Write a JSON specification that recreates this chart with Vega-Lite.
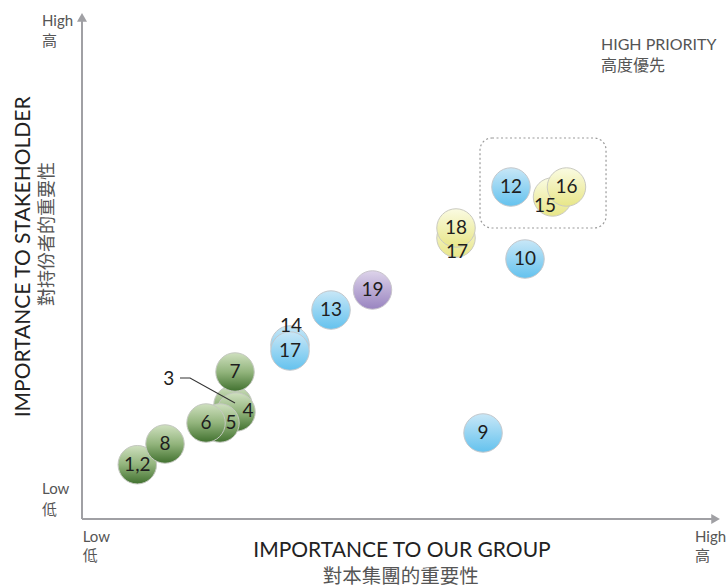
{
  "$schema": "https://vega.github.io/schema/vega-lite/v6.json",
  "width": 640,
  "height": 506,
  "autosize": {"type": "none"},
  "padding": {"left": 82, "top": 13, "right": 5, "bottom": 69},
  "background": "white",
  "config": {"view": {"stroke": null}},
  "datasets": {
    "bubbles": [
      {"id": "1,2", "g": "green", "x": 8.64, "y": 10.73, "lx": 8.64, "ly": 10.73},
      {"id": "8", "g": "green", "x": 12.97, "y": 14.82, "lx": 12.97, "ly": 14.82},
      {"id": "3", "g": "green", "x": 23.59, "y": 22.53, "lx": 13.55, "ly": 27.67},
      {"id": "4", "g": "green", "x": 24.06, "y": 21.15, "lx": 25.94, "ly": 21.34},
      {"id": "7", "g": "green", "x": 23.91, "y": 29.05, "lx": 23.91, "ly": 29.05},
      {"id": "5", "g": "green", "x": 21.56, "y": 18.97, "lx": 23.28, "ly": 18.97},
      {"id": "6", "g": "green", "x": 19.38, "y": 18.97, "lx": 19.38, "ly": 18.97},
      {"id": "14", "g": "blue", "x": 32.5, "y": 34.39, "lx": 32.66, "ly": 38.14},
      {"id": "17", "g": "blue", "x": 32.5, "y": 33.2, "lx": 32.5, "ly": 33.2},
      {"id": "13", "g": "blue", "x": 38.91, "y": 41.3, "lx": 38.91, "ly": 41.3},
      {"id": "12", "g": "blue", "x": 67.03, "y": 65.61, "lx": 67.03, "ly": 65.61},
      {"id": "10", "g": "blue", "x": 69.22, "y": 51.38, "lx": 69.22, "ly": 51.38},
      {"id": "9", "g": "blue", "x": 62.66, "y": 17.0, "lx": 62.66, "ly": 17.0},
      {"id": "17", "g": "yellow", "x": 58.44, "y": 55.53, "lx": 58.59, "ly": 52.77},
      {"id": "18", "g": "yellow", "x": 58.44, "y": 57.51, "lx": 58.44, "ly": 57.51},
      {"id": "15", "g": "yellow", "x": 73.52, "y": 63.64, "lx": 72.34, "ly": 61.86},
      {"id": "16", "g": "yellow", "x": 75.7, "y": 65.61, "lx": 75.7, "ly": 65.61},
      {"id": "19", "g": "purple", "x": 45.39, "y": 45.26, "lx": 45.39, "ly": 45.26}
    ]
  },
  "encoding": {
    "x": {"field": "x", "type": "quantitative", "scale": {"domain": [0, 100]}, "axis": null},
    "y": {"field": "y", "type": "quantitative", "scale": {"domain": [0, 100]}, "axis": null}
  },
  "layer": [
    {
      "data": {"values": [{"x": 0, "y": 0, "x2": 0, "y2": 99.15}, {"x": 0, "y": 0, "x2": 99.0, "y2": 0}]},
      "mark": {"type": "rule", "color": "#a0a0a4", "strokeWidth": 2},
      "encoding": {"x2": {"field": "x2"}, "y2": {"field": "y2"}}
    },
    {
      "data": {"values": [{"x": 0, "y": 99.15, "dir": "up"}, {"x": 99.0, "y": 0, "dir": "right"}]},
      "mark": {"type": "point", "filled": true, "size": 100, "color": "#a0a0a4", "opacity": 1},
      "encoding": {
        "shape": {"field": "dir", "type": "nominal", "scale": {"domain": ["up", "right"], "range": ["triangle-up", "triangle-right"]}, "legend": null}
      }
    },
    {
      "data": {"values": [{"x": 62.19, "y": 75.3, "x2": 81.88, "y2": 57.51}]},
      "mark": {"type": "rect", "cornerRadius": 12, "fillOpacity": 0, "stroke": "#9a9a9a", "strokeDash": [2, 2.5], "strokeWidth": 1.2},
      "encoding": {"x2": {"field": "x2"}, "y2": {"field": "y2"}}
    },
    {
      "data": {"name": "bubbles"},
      "transform": [{"filter": "datum.g === 'green'"}],
      "mark": {"type": "circle", "size": 1480, "opacity": 1, "stroke": "#c4c8c0", "strokeWidth": 1,
        "fill": {"gradient": "linear", "x1": 0, "y1": 0, "x2": 0, "y2": 1, "stops": [{"offset": 0, "color": "#cfe0bf"}, {"offset": 0.5, "color": "#92b47c"}, {"offset": 1, "color": "#41712f"}]}}
    },
    {
      "data": {"name": "bubbles"},
      "transform": [{"filter": "datum.g === 'blue'"}],
      "mark": {"type": "circle", "size": 1480, "opacity": 1, "stroke": "#c4c8cc", "strokeWidth": 1,
        "fill": {"gradient": "linear", "x1": 0, "y1": 0, "x2": 0, "y2": 1, "stops": [{"offset": 0, "color": "#c8e7f7"}, {"offset": 1, "color": "#64c2ee"}]}}
    },
    {
      "data": {"name": "bubbles"},
      "transform": [{"filter": "datum.g === 'yellow'"}],
      "mark": {"type": "circle", "size": 1480, "opacity": 1, "stroke": "#cacac0", "strokeWidth": 1,
        "fill": {"gradient": "linear", "x1": 0, "y1": 0, "x2": 0, "y2": 1, "stops": [{"offset": 0, "color": "#fafbe2"}, {"offset": 1, "color": "#e8e688"}]}}
    },
    {
      "data": {"name": "bubbles"},
      "transform": [{"filter": "datum.g === 'purple'"}],
      "mark": {"type": "circle", "size": 1480, "opacity": 1, "stroke": "#c8c4cc", "strokeWidth": 1,
        "fill": {"gradient": "linear", "x1": 0, "y1": 0, "x2": 0, "y2": 1, "stops": [{"offset": 0, "color": "#ddd3ea"}, {"offset": 1, "color": "#9984c0"}]}}
    },
    {
      "data": {"values": [{"x": 15.31, "y": 27.87, "o": 1}, {"x": 16.88, "y": 27.87, "o": 2}, {"x": 23.91, "y": 22.92, "o": 3}]},
      "mark": {"type": "line", "color": "#333333", "strokeWidth": 1.1},
      "encoding": {"order": {"field": "o", "type": "quantitative"}}
    },
    {
      "data": {"name": "bubbles"},
      "mark": {"type": "text", "font": "Lato", "fontSize": 19, "color": "#1e1e1e", "align": "center", "baseline": "middle"},
      "encoding": {
        "x": {"field": "lx", "type": "quantitative"},
        "y": {"field": "ly", "type": "quantitative"},
        "text": {"field": "id"}
      }
    },
    {
      "data": {"values": [
        {"t": "High", "x": -6.25, "y": 97.43},
        {"t": "高", "x": -6.25, "y": 93.48},
        {"t": "Low", "x": -6.25, "y": 4.94},
        {"t": "低", "x": -6.25, "y": 0.79},
        {"t": "Low", "x": 0.1, "y": -4.49},
        {"t": "低", "x": 0.1, "y": -8.3},
        {"t": "High", "x": 95.78, "y": -4.49},
        {"t": "高", "x": 95.78, "y": -8.3}
      ]},
      "mark": {"type": "text", "font": "Lato, Noto Sans CJK TC", "fontSize": 15, "color": "#555555", "align": "left", "baseline": "alphabetic"},
      "encoding": {"text": {"field": "t"}}
    },
    {
      "data": {"values": [
        {"t": "HIGH PRIORITY", "x": 81.09, "y": 92.69},
        {"t": "高度優先", "x": 81.09, "y": 88.6}
      ]},
      "mark": {"type": "text", "font": "Lato, Noto Sans CJK TC", "fontSize": 16, "color": "#555555", "align": "left", "baseline": "alphabetic"},
      "encoding": {"text": {"field": "t"}}
    },
    {
      "data": {"values": [{"t": "IMPORTANCE TO OUR GROUP", "x": 50, "y": -7.6}]},
      "mark": {"type": "text", "font": "Lato", "fontSize": 21, "color": "#222222", "align": "center", "baseline": "alphabetic"},
      "encoding": {"text": {"field": "t"}}
    },
    {
      "data": {"values": [{"t": "對本集團的重要性", "x": 49.8, "y": -12.7}]},
      "mark": {"type": "text", "font": "Noto Sans CJK TC", "fontSize": 19.5, "color": "#555555", "align": "center", "baseline": "alphabetic"},
      "encoding": {"text": {"field": "t"}}
    },
    {
      "data": {"values": [{"t": "IMPORTANCE TO STAKEHOLDER", "x": -8.1, "y": 51.8}]},
      "mark": {"type": "text", "font": "Lato", "fontSize": 21, "color": "#222222", "align": "center", "baseline": "alphabetic", "angle": 270},
      "encoding": {"text": {"field": "t"}}
    },
    {
      "data": {"values": [{"t": "對持份者的重要性", "x": -4.53, "y": 56.3}]},
      "mark": {"type": "text", "font": "Noto Sans CJK TC", "fontSize": 18, "color": "#555555", "align": "center", "baseline": "alphabetic", "angle": 270},
      "encoding": {"text": {"field": "t"}}
    }
  ]
}
